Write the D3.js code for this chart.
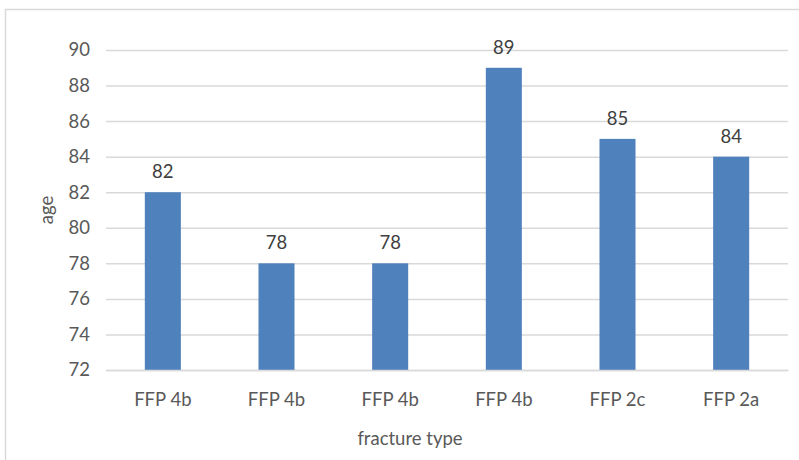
<!DOCTYPE html>
<html>
<head>
<meta charset="utf-8">
<script src="https://cdn.jsdelivr.net/npm/d3@7"></script>
<style>
  html, body { margin: 0; padding: 0; background: #fff; }
  svg { display: block; font-family: Lato, "Open Sans", "Liberation Sans", sans-serif; }
</style>
</head>
<body>
<svg id="chart" width="799" height="460"></svg>
<script>
// Fracture categories and the mean age for each
const categories = ["FFP 4b", "FFP 4b", "FFP 4b", "FFP 4b", "FFP 2c", "FFP 2a"];
const ages = [82, 78, 78, 89, 85, 84];
const yTicks = [72, 74, 76, 78, 80, 82, 84, 86, 88, 90];
const xTitle = "fracture type";
const yTitle = "age";

const svg = d3.select("#chart");
const W = 799, H = 460;
const margin = { left: 106, right: 11, top: 50, bottom: 90 };
const plotW = W - margin.left - margin.right;
const fontSize = "18.5px";

// chart frame
svg.append("rect")
  .attr("x", 5.5).attr("y", 9.5)
  .attr("width", W + 20).attr("height", H + 20)
  .attr("fill", "#fff").attr("stroke", "#d9d9d9").attr("stroke-width", 1.5);

const idx = categories.map((_, i) => i);
const x = d3.scaleBand()
  .domain(idx)
  .range([margin.left, margin.left + plotW])
  .paddingInner(0.683)
  .paddingOuter(0.3415);

const y = d3.scaleLinear()
  .domain([72, 90])
  .range([370, 50]);

// horizontal gridlines with tick labels
const yAxis = svg.append("g")
  .attr("transform", `translate(${margin.left},0)`)
  .call(d3.axisLeft(y).tickValues(yTicks).tickSize(-plotW).tickPadding(16).tickFormat(d3.format("d")));
yAxis.select(".domain").remove();
yAxis.selectAll(".tick line").attr("stroke", "#d9d9d9").attr("stroke-width", 1.5);
yAxis.selectAll(".tick text")
  .attr("fill", "#595959").style("font-size", fontSize).style("font-family", "Lato, sans-serif");

// bars
svg.append("g").selectAll("rect")
  .data(ages)
  .join("rect")
  .attr("x", (d, i) => x(i))
  .attr("y", d => y(d))
  .attr("width", x.bandwidth())
  .attr("height", d => y(72) - y(d))
  .attr("fill", "#4f81bd");

// value labels above the bars
svg.append("g").selectAll("text")
  .data(ages)
  .join("text")
  .attr("x", (d, i) => x(i) + x.bandwidth() / 2)
  .attr("y", d => y(d) - 14)
  .attr("text-anchor", "middle")
  .attr("fill", "#404040")
  .style("font-size", fontSize)
  .text(d => d);

// category axis
const xAxis = svg.append("g")
  .attr("transform", `translate(0,${y(72)})`)
  .call(d3.axisBottom(x).tickSize(0).tickPadding(23).tickFormat(i => categories[i]));
xAxis.select(".domain").attr("stroke", "#d9d9d9").attr("stroke-width", 1.5);
xAxis.selectAll(".tick text")
  .attr("fill", "#595959").style("font-size", fontSize).style("font-family", "Lato, sans-serif");

// axis titles
svg.append("text")
  .attr("x", 410).attr("y", 445)
  .attr("text-anchor", "middle")
  .attr("fill", "#595959")
  .style("font-size", fontSize)
  .text(xTitle);

svg.append("text")
  .attr("transform", `translate(53,210) rotate(-90)`)
  .attr("text-anchor", "middle")
  .attr("fill", "#595959")
  .style("font-size", fontSize)
  .text(yTitle);
</script>
</body>
</html>
